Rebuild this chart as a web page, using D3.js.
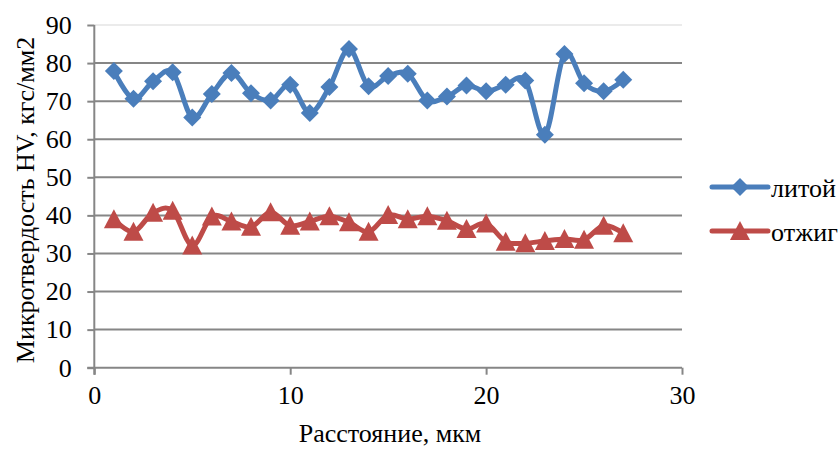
<!DOCTYPE html>
<html><head><meta charset="utf-8">
<script src="https://cdn.jsdelivr.net/npm/d3@7"></script>
<style>body{margin:0;background:#fff}</style>
</head><body><svg id="c" width="840" height="450"></svg>
<script>
const positions = [1,2,3,4,5,6,7,8,9,10,11,12,13,14,15,16,17,18,19,20,21,22,23,24,25,26,27];
const litoy = [77.9,70.6,75.2,77.6,65.7,71.9,77.4,72.1,70.2,74.3,66.9,73.7,83.7,73.9,76.6,77.2,70.2,71.2,74.1,72.6,74.3,75.4,61.2,82.4,74.7,72.6,75.6];
const otzhig = [39.0,35.7,40.7,41.2,32.1,39.7,38.4,37.0,40.8,37.3,38.4,39.8,38.2,35.7,40.1,39.0,39.8,38.6,36.4,37.9,33.1,32.7,33.3,33.8,33.6,37.3,35.3];
const seriesNames = ["литой","отжиг"];
const xTicks = [0,10,20,30];
const yTicks = [0,10,20,30,40,50,60,70,80,90];
const xTitle = "Расстояние, мкм";
const yTitle = "Микротвердость HV, кгс/мм2";

const FONT = "'Liberation Serif', 'Times New Roman', 'DejaVu Serif', serif";
const FS = "26px";
const svg = d3.select("#c");
const x = d3.scaleLinear().domain([0,30]).range([94.3,682]);
const y = d3.scaleLinear().domain([0,90]).range([367.7,25]);
const colors = ["#4A7EBB","#BE4B48"];

svg.append("g").selectAll("line").data(yTicks.filter(d=>d>0)).join("line")
  .attr("x1",x(0)).attr("x2",x(30)).attr("y1",d=>y(d)).attr("y2",d=>y(d))
  .attr("stroke",d=>d===90?"#EBEBEB":"#868686").attr("stroke-width",2);

const ya = svg.append("g").attr("transform",`translate(${x(0)},0)`)
  .call(d3.axisLeft(y).tickValues(yTicks).tickSize(7).tickPadding(15.5).tickFormat(d3.format("d")));
ya.select(".domain").attr("stroke","#868686").attr("stroke-width",2).attr("d",`M0,${y(0)+7}V${y(90)}`);
ya.selectAll(".tick line").attr("stroke","#868686").attr("stroke-width",2);

const xa = svg.append("g").attr("transform",`translate(0,${y(0)})`)
  .call(d3.axisBottom(x).tickValues(xTicks).tickSize(7).tickPadding(10.5).tickFormat(d3.format("d")));
xa.select(".domain").attr("stroke","#868686").attr("stroke-width",2).attr("d",`M${x(0)-7},0H${x(30)}`);
xa.selectAll(".tick line").attr("stroke","#868686").attr("stroke-width",2);

svg.append("text").attr("x",390).attr("y",442).attr("text-anchor","middle").text(xTitle);
svg.append("text").attr("transform","translate(34,200) rotate(-90)").attr("text-anchor","middle").text(yTitle);

const line = d3.line().x((d,i)=>x(positions[i])).y(d=>y(d)).curve(d3.curveCardinal.tension(0));
const diamond = s => `M0,${-s}L${s},0L0,${s}L${-s},0Z`;
const tri = s => `M0,${-s}L${s},${s*0.9}L${-s},${s*0.9}Z`;

[litoy, otzhig].forEach((data,k)=>{
  svg.append("path").datum(data).attr("d",line).attr("fill","none")
    .attr("stroke",colors[k]).attr("stroke-width",5).attr("stroke-linejoin","round");
  svg.append("g").selectAll("path").data(data).join("path")
    .attr("transform",(d,i)=>`translate(${x(positions[i])},${y(d)})`)
    .attr("d",k===0?diamond(9):tri(10)).attr("fill",colors[k]);
});

const lg = svg.append("g");
seriesNames.forEach((n,k)=>{
  const ly = 187 + k*44;
  lg.append("line").attr("x1",712).attr("x2",768).attr("y1",ly).attr("y2",ly).attr("stroke",colors[k]).attr("stroke-width",5).attr("stroke-linecap","round");
  lg.append("path").attr("transform",`translate(740,${ly})`).attr("d",k===0?diamond(9):tri(10)).attr("fill",colors[k]);
  lg.append("text").attr("x",771).attr("y",ly+10).text(n);
});

svg.selectAll("text").style("font-family",FONT).style("font-size",FS).style("fill","#000");
</script></body></html>
